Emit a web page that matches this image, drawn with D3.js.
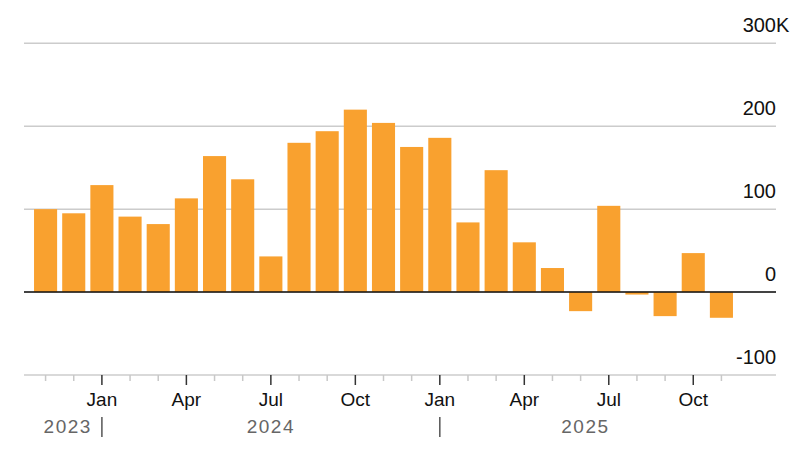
<!DOCTYPE html>
<html><head><meta charset="utf-8">
<script src="https://cdn.jsdelivr.net/npm/d3@7"></script>
<style>
html,body{margin:0;padding:0;background:#fff;}
svg text{font-family:"Liberation Sans",Arial,sans-serif;}
</style></head>
<body>
<svg id="chart" width="800" height="450"></svg>
<script>
const months = ["2023-11","2023-12","2024-01","2024-02","2024-03","2024-04","2024-05","2024-06","2024-07","2024-08","2024-09","2024-10","2024-11","2024-12","2025-01","2025-02","2025-03","2025-04","2025-05","2025-06","2025-07","2025-08","2025-09","2025-10","2025-11"];
const values = [100,95,129,91,82,113,164,136,43,180,194,220,204,175,186,84,147,60,29,-23,104,-3,-29,47,-31];
const yTicks = [300,200,100,0,-100];
const monthNames = ["Jan","Feb","Mar","Apr","May","Jun","Jul","Aug","Sep","Oct","Nov","Dec"];

const svg = d3.select("#chart");
const left = 24, right = 776;
const x = d3.scaleBand().domain(months).range([31.5, 735.5]).paddingInner(0.18).paddingOuter(0.09);
const y = d3.scaleLinear().domain([-100,300]).range([375, 43.3]);

// gridlines
yTicks.forEach(t => {
  svg.append("line").attr("x1", left).attr("x2", right)
    .attr("y1", y(t)).attr("y2", y(t))
    .attr("stroke", "#cccccc").attr("stroke-width", 1.5);
});

// y labels
const tmp = svg.append("text").attr("font-size", 20).text("300");
const w300 = tmp.node().getComputedTextLength();
tmp.remove();
yTicks.forEach(t => {
  const lab = t === 300 ? "300K" : String(t);
  svg.append("text").attr("font-size", 20).attr("fill", "#111")
    .attr("x", t === 300 ? right - w300 : right)
    .attr("text-anchor", t === 300 ? "start" : "end")
    .attr("y", y(t) - 11).text(lab);
});

// bars
svg.selectAll("rect.bar").data(months).join("rect").attr("class","bar")
  .attr("x", d => x(d)).attr("width", x.bandwidth())
  .attr("y", (d,i) => y(Math.max(0, values[i])))
  .attr("height", (d,i) => Math.abs(y(values[i]) - y(0)))
  .attr("fill", "#f9a12f");

// zero line
svg.append("line").attr("x1", left).attr("x2", right)
  .attr("y1", y(0)).attr("y2", y(0)).attr("stroke", "#111").attr("stroke-width", 1.5);

// x ticks
const axisY = y(-100);
months.forEach(m => {
  const mi = +m.slice(5) - 1;
  const cx = x(m) + x.bandwidth()/2;
  const major = mi % 3 === 0;
  svg.append("line").attr("x1", cx).attr("x2", cx)
    .attr("y1", axisY).attr("y2", axisY + (major ? 10 : 6))
    .attr("stroke", major ? "#333" : "#c8c8c8").attr("stroke-width", 1.5);
  if (major) {
    svg.append("text").attr("x", cx).attr("y", 406).attr("text-anchor","middle")
      .attr("font-size", 19).attr("fill", "#111").text(monthNames[mi]);
  }
});

// year labels
const janX = m => x(m) + x.bandwidth()/2;
const b2024 = janX("2024-01"), b2025 = janX("2025-01");
[b2024, b2025].forEach(bx => {
  svg.append("line").attr("x1", bx).attr("x2", bx).attr("y1", 417).attr("y2", 437)
    .attr("stroke", "#555").attr("stroke-width", 1.5);
});
const yearLabels = [
  {t:"2023", x: b2024 - 10, anchor:"end"},
  {t:"2024", x: (b2024 + b2025)/2, anchor:"middle"},
  {t:"2025", x: (b2025 + 731)/2, anchor:"middle"}
];
yearLabels.forEach(d => {
  svg.append("text").attr("x", d.x).attr("y", 433).attr("text-anchor", d.anchor)
    .attr("font-size", 19).attr("letter-spacing", "1.5px").attr("fill", "#666").text(d.t);
});
</script>
</body></html>
